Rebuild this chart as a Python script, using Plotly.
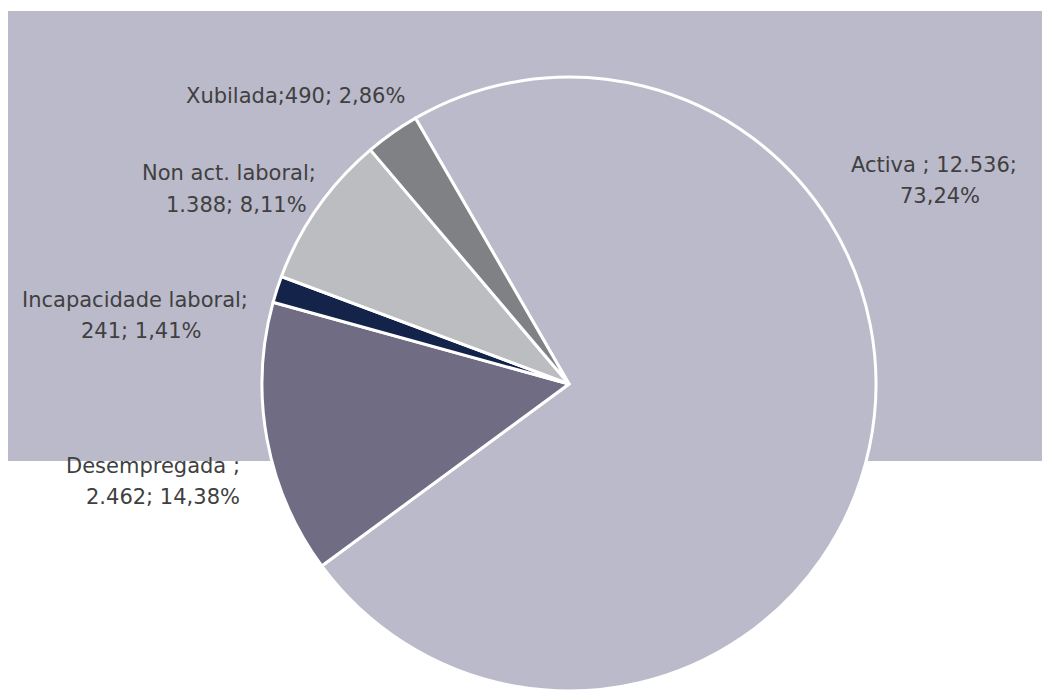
import plotly.graph_objects as go

# ---- data ----
categories = ["Activa", "Desempregada", "Incapacidade laboral", "Non act. laboral", "Xubilada"]
values = [12536, 2462, 241, 1388, 490]
label_line1 = ["Activa ; 12.536;", "Desempregada ;", "Incapacidade laboral;", "Non act. laboral;", "Xubilada;490; 2,86%"]
label_line2 = ["73,24%", "2.462; 14,38%", "241; 1,41%", "1.388; 8,11%", ""]

# ---- style / layout ----
colors = ["#BBBACA", "#6F6C84", "#14234A", "#BCBDC1", "#808184"]
W, H = 1042, 691
# label line centres in pixels (x, y) for line1 and line2
label_pos1 = [(934, 165), (153, 466), (135, 300), (229, 173), (295, 96)]
label_pos2 = [(940, 196), (163, 497), (141, 331), (236, 205), None]

cx, r_top = 569, 77
fig = go.Figure()
fig.add_trace(go.Pie(
    labels=categories,
    values=values,
    sort=False,
    direction="clockwise",
    rotation=330,
    marker=dict(colors=colors, line=dict(color="white", width=3)),
    textinfo="none",
    hoverinfo="label+value+percent",
    showlegend=False,
    domain=dict(x=[cx / W - 0.3, cx / W + 0.3], y=[0, 1 - r_top / H]),
))

fig.add_shape(type="rect", xref="paper", yref="paper",
              x0=8 / W, x1=1, y0=1 - 461 / H, y1=1 - 11 / H,
              fillcolor="#BBBACA", line=dict(width=0), layer="below")

font = dict(family="DejaVu Sans", size=21, color="#404040")
for i in range(len(categories)):
    for txt, pos in ((label_line1[i], label_pos1[i]), (label_line2[i], label_pos2[i])):
        if not txt or pos is None:
            continue
        fig.add_annotation(text=txt, x=pos[0] / W, y=1 - pos[1] / H,
                           xref="paper", yref="paper", xanchor="center", yanchor="middle",
                           showarrow=False, font=font)

fig.update_layout(width=W, height=H, margin=dict(l=0, r=0, t=0, b=0),
                  paper_bgcolor="white", plot_bgcolor="white")
fig.write_html("out.html", config={"displayModeBar": False},
               post_script="document.body.style.margin='0';document.body.style.overflow='hidden';")
